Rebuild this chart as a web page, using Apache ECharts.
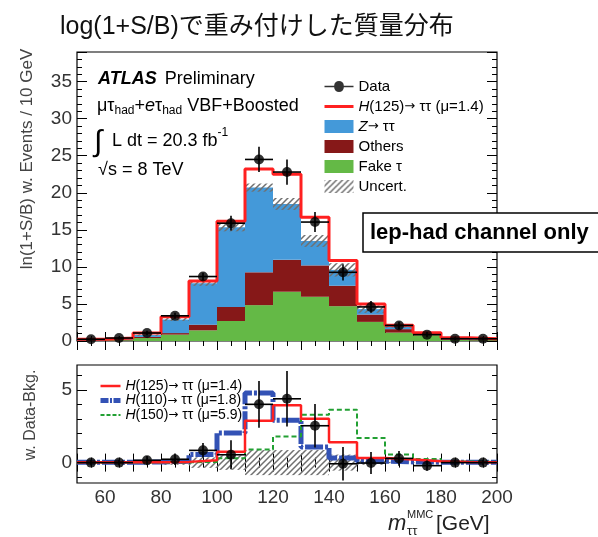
<!DOCTYPE html>
<html><head><meta charset="utf-8">
<script src="https://cdn.jsdelivr.net/npm/echarts@6/dist/echarts.min.js"></script>
<style>html,body{margin:0;padding:0;background:#fff;}#c{width:598px;height:537px;}</style>
</head><body><div id="c"></div>
<script>
// ---------- data ----------
const binEdges = [50,60,70,80,90,100,110,120,130,140,150,160,170,180,190,200];
const binCenters = [55,65,75,85,95,105,115,125,135,145,155,165,175,185,195];
const fakeTau   = [0.04,0.10,0.40,0.86,1.44,2.70,4.84,6.65,5.97,4.70,2.58,1.13,0.77,0.15,0.10];
const others    = [0.04,0.08,0.15,0.21,0.76,1.90,4.43,4.30,4.23,2.76,0.99,0.47,0.08,0.10,0.07];
const zTauTau   = [0.07,0.12,0.25,1.83,5.60,10.75,11.43,7.55,3.30,2.14,0.73,0.40,0.15,0.10,0.08];
const totalH125 = [0.23,0.40,1.08,3.26,8.10,16.15,23.2,22.5,16.7,10.85,4.98,2.13,1.13,0.45,0.30];
const bkgUncert = [0.05,0.05,0.10,0.20,0.35,0.55,0.55,0.80,0.80,0.90,0.50,0.20,0.15,0.05,0.05];
const dataValues= [0.23,0.40,1.08,3.40,8.70,15.9,24.5,22.8,16.05,9.27,4.60,2.10,0.86,0.31,0.30];
const dataErrors= [0.20,0.20,0.30,0.40,0.50,1.00,1.70,1.70,1.35,1.10,0.80,0.50,0.35,0.20,0.20];
const diffValues= [0.00,0.00,0.16,0.23,0.84,0.54,4.00,4.38,2.53,-0.08,-0.03,0.29,-0.21,0.00,0.00];
const diffErrors= [0.20,0.20,0.30,0.40,0.50,1.00,1.60,1.90,1.50,1.15,0.75,0.50,0.35,0.20,0.20];
const sigH125   = [0.02,0.02,0.03,0.05,0.16,0.75,2.88,3.93,3.01,1.39,0.32,0.21,0.10,0.05,0.03];
const sigH110   = [0.02,0.02,0.05,0.10,0.55,2.03,4.77,2.90,1.07,0.32,0.10,0.05,0.03,0.02,0.02];
const sigH150   = [0.00,0.00,0.00,0.02,0.05,0.30,0.90,1.80,3.29,3.63,1.69,0.55,0.25,0.08,0.05];
const diffUncert= [0.02,0.05,0.08,0.15,0.36,0.50,0.86,0.86,0.86,0.55,0.15,0.05,0.03,0.02,0.02];
const xTickLabels = [60,80,100,120,140,160,180,200];
const yTopTicks = [0,5,10,15,20,25,30,35];
const yBottomLabels = [0,5];
const yBottomMinor = [-1,1,2,3,4,6];

// ---------- helpers ----------
const FONT = "'Liberation Sans', Arial, Helvetica, sans-serif";
const ARROW_FONT = "'DejaVu Sans', sans-serif";
const C_Z = '#4499d9', C_OTH = '#861818', C_FAKE = '#64b946', C_RED = '#ff2020', C_B110 = '#3352b5', C_G150 = '#22a033';

function makeHatch(){
  const s = 6, c = document.createElement('canvas'); c.width = c.height = s;
  const ctx = c.getContext('2d'); ctx.strokeStyle = '#707070'; ctx.lineWidth = 1.5;
  ctx.beginPath();
  ctx.moveTo(0,s); ctx.lineTo(s,0);
  ctx.moveTo(-s/2,s/2); ctx.lineTo(s/2,-s/2);
  ctx.moveTo(s/2,s*1.5); ctx.lineTo(s*1.5,s/2);
  ctx.stroke(); return c;
}
const hatchFill = {image: makeHatch(), repeat: 'repeat'};

const mctx = document.createElement('canvas').getContext('2d');
function tw(t, size, style, weight){ mctx.font = `${style||'normal'} ${weight||'normal'} ${size}px ${FONT}`; return mctx.measureText(t).width; }
function run(x, y, pieces, color){
  const els = []; let cx = x;
  for (const p of pieces){
    els.push({type:'text', x:cx, y:y+(p.dy||0), z:50,
      style:{text:p.t, fontSize:p.size, fontFamily:FONT, fontStyle:p.style||'normal', fontWeight:p.weight||'normal',
             fill:color||'#000', align:'left', verticalAlign:'middle'}});
    cx += tw(p.t, p.size, p.style, p.weight) + (p.gap||0);
  }
  return els;
}

const cumFake = fakeTau.slice();
const cumOth = fakeTau.map((v,i)=>v+others[i]);
const cumZ = cumOth.map((v,i)=>v+zTauTau[i]);

function rectData(lo, hi){ return binCenters.map((c,i)=>[binEdges[i], binEdges[i+1], lo[i], hi[i]]); }
function rectSeries(name, data, fill, xi, yi, z){
  return {name, type:'custom', xAxisIndex:xi, yAxisIndex:yi, z, clip:true, itemStyle:{color:fill},
    data, renderItem(params, api){
      const p0 = api.coord([api.value(0), api.value(2)]);
      const p1 = api.coord([api.value(1), api.value(3)]);
      return {type:'rect', shape:{x:p0[0], y:p1[1], width:p1[0]-p0[0], height:p0[1]-p1[1]}, style:{fill, stroke:null}};
    }};
}
function stepData(vals){ return binEdges.map((e,i)=>[e, vals[Math.min(i, vals.length-1)]]); }
function stepSeries(name, vals, color, width, type, xi, yi, z){
  return {name, type:'line', step:'end', xAxisIndex:xi, yAxisIndex:yi, z, symbol:'none', showSymbol:false,
    data: stepData(vals), itemStyle:{color}, lineStyle:{color, width, type}};
}
function errSeries(name, vals, errs, xi, yi){
  return {name, type:'custom', xAxisIndex:xi, yAxisIndex:yi, z:8, clip:true,
    data: binCenters.map((c,i)=>[c, vals[i], errs[i]]),
    renderItem(params, api){
      const x = api.value(0), y = api.value(1), e = api.value(2);
      const l = api.coord([x-5, y]), r = api.coord([x+5, y]);
      const t = api.coord([x, y+e]), b = api.coord([x, y-e]);
      const st = {stroke:'#000', lineWidth:1.6};
      return {type:'group', children:[
        {type:'line', shape:{x1:l[0], y1:l[1], x2:r[0], y2:r[1]}, style:st},
        {type:'line', shape:{x1:t[0], y1:t[1], x2:b[0], y2:b[1]}, style:st}]};
    }};
}
function xAx(grid, pos, labels){
  return {gridIndex:grid, type:'value', min:50, max:200, interval:10, position:pos,
    axisLine:{show:false}, splitLine:{show:false},
    axisTick:{show:true, inside:true, length:9, lineStyle:{color:'#000', width:1}},
    minorTick:{show:true, splitNumber:2, length:5, lineStyle:{color:'#000', width:1}},
    axisLabel: labels ? {show:true, formatter:v=>xTickLabels.includes(v)?String(v):'', fontSize:19, fontFamily:FONT, color:'#333', margin:5} : {show:false}};
}
function yTop(pos, labels){
  return {gridIndex:0, type:'value', min:0, max:39, interval:5, position:pos,
    axisLine:{show:false}, splitLine:{show:false},
    axisTick:{show:true, inside:true, length:10, lineStyle:{color:'#000'}},
    minorTick:{show:true, splitNumber:5, length:5, lineStyle:{color:'#000'}},
    axisLabel: labels ? {show:true, formatter:v=>yTopTicks.includes(v)?String(v):'', showMaxLabel:false, fontSize:19, fontFamily:FONT, color:'#333', margin:5} : {show:false}};
}
function yBot(pos, ticks, len, labels){
  return {gridIndex:1, type:'value', min:-1.4, max:6.7, position:pos,
    axisLine:{show:false}, splitLine:{show:false},
    axisTick:{show:true, inside:true, length:len, customValues:ticks, lineStyle:{color:'#000'}},
    axisLabel: labels ? {show:true, customValues:yBottomLabels, fontSize:19, fontFamily:FONT, color:'#333', margin:5} : {show:false}};
}

const NAME_DATA='Data', NAME_H125='H(125)→ ττ (μ=1.4)', NAME_Z='Z→ ττ', NAME_OTH='Others', NAME_FAKE='Fake τ', NAME_UNC='Uncert.';
const NAME_H110='H(110)→ ττ (μ=1.8)', NAME_H150='H(150)→ ττ (μ=5.9)';
const legendFmt = n => n.replace(/^([HZ])/, '{i|$1}').replace('→', '{a|→}');
const dataIcon = 'path://M0,5.2 L10,5.2 A5,5 0 1,1 20,5.2 L30,5.2 L30,6.8 L20,6.8 A5,5 0 1,1 10,6.8 L0,6.8 Z';
const noSym = {color:'rgba(0,0,0,0)', borderWidth:0, opacity:0};
function rich(size){
  return {i:{fontStyle:'italic', fontSize:size, fontFamily:FONT, color:'#000', lineHeight:size},
          a:{fontSize:size-2, fontFamily:ARROW_FONT, color:'#000', lineHeight:size}};
}

const graphics = [].concat(
  run(98, 79, [{t:'ATLAS', size:18, weight:'bold', style:'italic', gap:8},{t:'Preliminary', size:18}]),
  run(97, 106, [{t:'μτ',size:18},{t:'had',size:12,dy:5},{t:'+',size:18},{t:'e',size:18,style:'italic'},{t:'τ',size:18},{t:'had',size:12,dy:5},{t:' VBF+Boosted',size:18}]),
  run(94, 143, [{t:'∫',size:30,gap:4}]),
  run(112, 141, [{t:'L dt = 20.3 fb',size:18},{t:'-1',size:12,dy:-8}]),
  run(98, 170, [{t:'√s = 8 TeV',size:18}]),
  run(388, 524, [{t:'m',size:22,style:'italic'}], '#222'),
  run(407, 515, [{t:'MMC',size:11}], '#222'),
  run(407, 531, [{t:'ττ',size:13}], '#222'),
  run(436, 524, [{t:'[GeV]',size:21}], '#222'),
  [
    {type:'text', x:27, y:159, rotation:Math.PI/2, z:50, style:{text:'ln(1+S/B) w. Events / 10 GeV', fontSize:17, fontFamily:FONT, fill:'#444', align:'center', verticalAlign:'middle'}},
    {type:'text', x:31, y:415, rotation:Math.PI/2, z:50, style:{text:'w. Data-Bkg.', fontSize:16, fontFamily:FONT, fill:'#444', align:'center', verticalAlign:'middle'}},
    {type:'rect', z:60, shape:{x:363, y:213, width:245, height:39}, style:{fill:'#fff', stroke:'#000', lineWidth:1.5}},
    {type:'text', x:370, y:233, z:61, style:{text:'lep-had channel only', fontSize:22, fontWeight:'bold', fontFamily:FONT, fill:'#000', align:'left', verticalAlign:'middle'}}
  ]
);

const option = {
  animation:false,
  backgroundColor:'#fff',
  title:{text:'log(1+S/B)で重み付けした質量分布', left:55, top:10,
    textStyle:{fontFamily:"'Liberation Sans','Noto Sans CJK JP',sans-serif", fontSize:25, fontWeight:'normal', color:'#111'}},
  grid:[
    {left:77, top:52, width:420, height:289, show:true, borderColor:'#000', borderWidth:1.2},
    {left:77, top:365, width:420, height:118, show:true, borderColor:'#000', borderWidth:1.2}
  ],
  xAxis:[xAx(0,'bottom',false), xAx(0,'top',false), xAx(1,'bottom',true), xAx(1,'top',false)],
  yAxis:[yTop('left',true), yTop('right',false),
         yBot('left', yBottomLabels, 10, true), yBot('left', yBottomMinor, 5, false),
         yBot('right', yBottomLabels, 10, false), yBot('right', yBottomMinor, 5, false)],
  legend:[
    {left:318, top:74, orient:'vertical', itemWidth:29, itemHeight:13, itemGap:5, selectedMode:false,
     formatter:legendFmt,
     textStyle:{fontSize:15, fontFamily:FONT, color:'#000', lineHeight:15, rich:rich(15)},
     data:[{name:NAME_DATA, icon:dataIcon, itemStyle:{color:'#000'}},
           {name:NAME_H125, itemStyle:noSym, lineStyle:{width:3, color:C_RED}},
           {name:NAME_Z, icon:'rect'}, {name:NAME_OTH, icon:'rect'}, {name:NAME_FAKE, icon:'rect'}, {name:NAME_UNC, icon:'rect'}]},
    {left:93, top:374, orient:'vertical', itemWidth:20, itemHeight:10, itemGap:0.5, selectedMode:false,
     formatter:legendFmt,
     textStyle:{fontSize:14, fontFamily:FONT, color:'#000', lineHeight:14, rich:rich(14)},
     data:[{name:NAME_H125, itemStyle:noSym, lineStyle:{width:2.5, color:C_RED}},
           {name:NAME_H110, itemStyle:noSym, lineStyle:{width:5, color:C_B110, type:[8,1.5,2,1.5]}},
           {name:NAME_H150, itemStyle:noSym, lineStyle:{width:2, color:C_G150, type:[4,2]}}]}
  ],
  graphic: graphics,
  series:[
    rectSeries(NAME_FAKE, rectData(fakeTau.map(()=>0), cumFake), C_FAKE, 0, 0, 2),
    rectSeries(NAME_OTH, rectData(cumFake, cumOth), C_OTH, 0, 0, 2),
    rectSeries(NAME_Z, rectData(cumOth, cumZ), C_Z, 0, 0, 2),
    rectSeries(NAME_UNC, rectData(cumZ.map((v,i)=>v-bkgUncert[i]), cumZ.map((v,i)=>v+bkgUncert[i])), hatchFill, 0, 0, 3),
    stepSeries(NAME_H125, totalH125, C_RED, 3, 'solid', 0, 0, 4),
    errSeries('Data errors', dataValues, dataErrors, 0, 0),
    {name:NAME_DATA, type:'scatter', xAxisIndex:0, yAxisIndex:0, z:9, symbol:'circle', symbolSize:10,
     itemStyle:{color:'#000'}, data: binCenters.map((c,i)=>[c, dataValues[i]])},
    rectSeries('Uncert. (Data-Bkg.)', rectData(diffUncert.map(v=>-v), diffUncert), hatchFill, 2, 2, 2),
    stepSeries(NAME_H110, sigH110, C_B110, 5, [18,2,3,2], 2, 2, 3),
    stepSeries(NAME_H150, sigH150, C_G150, 2, [5,3], 2, 2, 4),
    stepSeries(NAME_H125, sigH125, C_RED, 2.5, 'solid', 2, 2, 5),
    errSeries('Data-Bkg. errors', diffValues, diffErrors, 2, 2),
    {name:'Data-Bkg.', type:'scatter', xAxisIndex:2, yAxisIndex:2, z:9, symbol:'circle', symbolSize:10,
     itemStyle:{color:'#000'}, data: binCenters.map((c,i)=>[c, diffValues[i]])}
  ]
};
const chart = echarts.init(document.getElementById('c'), null, {renderer:'canvas'});
chart.setOption(option);
</script></body></html>
